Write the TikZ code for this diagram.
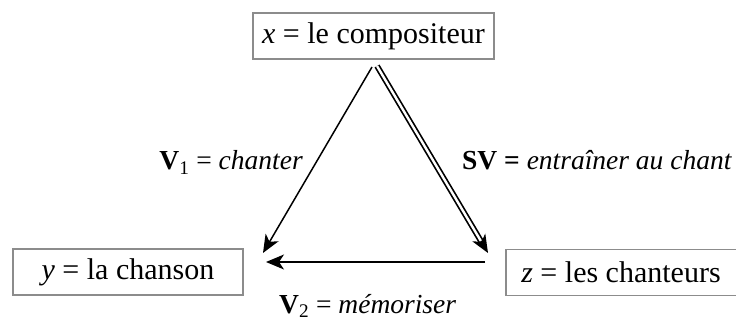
\documentclass[tikz,border=0pt]{standalone}
\usepackage{fontspec}
\setmainfont{Liberation Serif}[ItalicFont={Liberation Serif Italic},BoldFont={Liberation Serif Bold},BoldItalicFont={Liberation Serif Bold Italic}]
\usetikzlibrary{arrows.meta,calc}
\begin{document}
\begin{tikzpicture}[x=1pt,y=-1pt,
  term/.style={draw=black!45, line width=1.4pt, inner sep=0pt, font=\fontsize{30}{34}\selectfont},
  lab/.style={inner sep=0pt, font=\fontsize{27.5}{31}\selectfont},
  conn/.style={line width=1.5pt, -{Stealth[length=18pt,width=15pt,inset=5pt]}},
  tip/.style={-{Stealth[length=18pt,width=15pt,inset=5pt]}, line width=1.5pt},
  dbl/.style={double, double distance=2.4pt, line width=1.7pt}]
\useasboundingbox (0,0) rectangle (736,323);
\node[term, minimum width=241pt, minimum height=46pt] (X) at (373.5,36) {\textit{x} = le compositeur};
\node[term, minimum width=230pt, minimum height=46pt] (Y) at (128,272) {\textit{y} = la chanson};
\node[term, minimum width=234pt, minimum height=46pt] (Z) at (623,272.5) {};
\node[font=\fontsize{30}{34}\selectfont, inner sep=0pt] (Zt) at (621,272.5) {\textit{z} = les chanteurs};
\coordinate (aL) at (372,67);
\coordinate (aR) at (377,66);
\coordinate (yT) at (263,253);
\coordinate (zT) at (488,253);
\coordinate (hS) at (485,262);
\coordinate (hE) at (266,262);
\draw[conn] (aL) -- (yT);
\draw[dbl] (aR) -- ($(zT)!12pt!(aR)$);
\draw[tip] ($(zT)!14pt!(aR)$) -- (zT);
\draw[conn] (hS) -- (hE);
\node[lab, anchor=base east] (l1) at (303,170) {\textbf{V}\textsubscript{1} = \textit{chanter}};
\node[lab, anchor=base west] (l2) at (462,170) {\textbf{SV =} \textit{entraîner au chant}};
\node[lab, anchor=base west] (l3) at (279,313) {\textbf{V}\textsubscript{2} = \textit{mémoriser}};
\end{tikzpicture}
\end{document}
